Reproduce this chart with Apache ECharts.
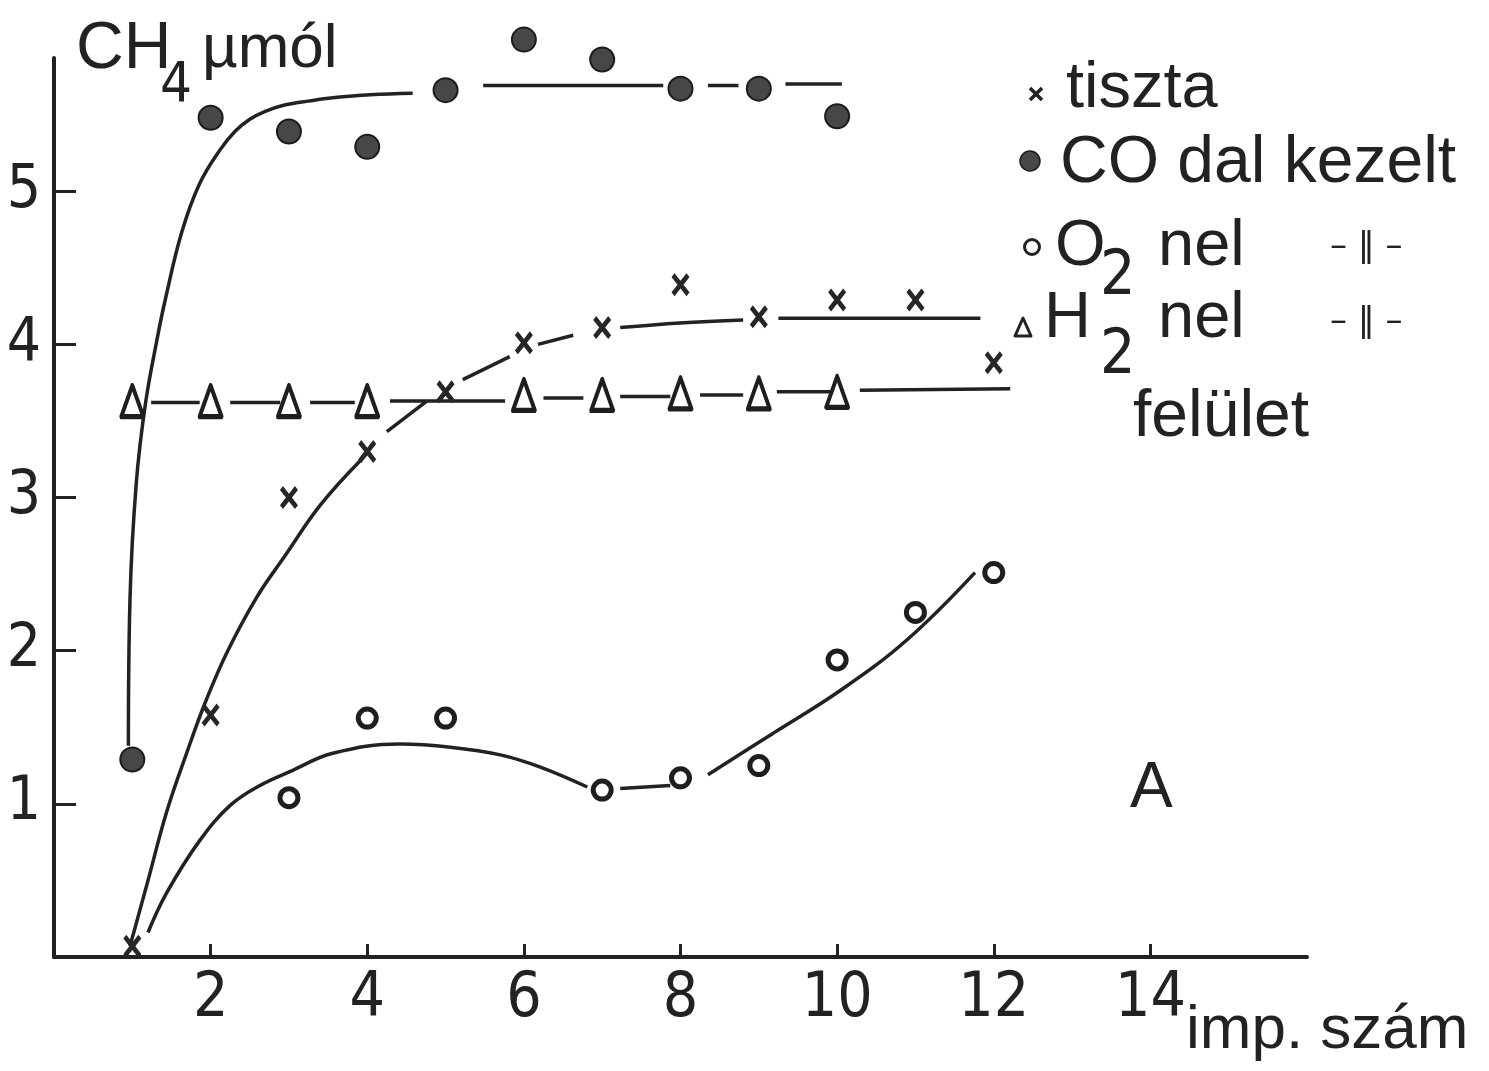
<!DOCTYPE html>
<html><head><meta charset="utf-8">
<script src="https://cdn.jsdelivr.net/npm/echarts@6/dist/echarts.min.js"></script>
<style>html,body{margin:0;padding:0;background:#fff}#c{width:1489px;height:1071px}</style>
</head><body><div id="c"></div>
<script>
// ---- data ----
const impulses = [1, 2, 3, 4, 5, 6, 7, 8, 9, 10, 11, 12];
const tiszta   = [0.07, 1.58, 3.00, 3.30, 3.69, 4.01, 4.11, 4.39, 4.18, 4.29, 4.29, 3.88];
const coKezelt = [1.29, 5.48, 5.39, 5.29, 5.66, 5.99, 5.86, 5.67, 5.67, 5.49, null, null];
const o2Nel    = [null, null, 1.04, 1.56, 1.56, null, 1.09, 1.17, 1.25, 1.94, 2.25, 2.51];
const h2Nel    = [3.63, 3.63, 3.63, 3.63, null, 3.67, 3.67, 3.68, 3.68, 3.69, null, null];

// hand-drawn trend curves (visible pieces, '-' marks a pen lift)
const GAP = ['-', '-'];
const coFit = [[0.95,1.38],[0.97,2.33],[1.05,3.09],[1.17,3.62],[1.33,4.07],[1.42,4.29],[1.63,4.73],[1.86,5.05],[2.12,5.27],[2.31,5.39],[2.50,5.47],[2.69,5.52],[2.92,5.56],[3.27,5.59],[3.56,5.61],[4.04,5.63],[4.58,5.64],
  GAP,[5.48,5.69],[7.78,5.69],GAP,[8.35,5.69],[8.74,5.69],GAP,[9.34,5.70],[10.06,5.70]];
const tisztaFit = [[0.97,0.07],[1.19,0.48],[1.44,0.95],[1.70,1.34],[1.93,1.66],[2.21,1.99],[2.59,2.35],[2.95,2.62],[3.40,2.95],[3.91,3.24],
  GAP,[4.25,3.43],[4.76,3.63],GAP,[5.22,3.77],[5.82,3.92],GAP,[6.18,4.00],[6.63,4.06],GAP,[7.23,4.11],[7.99,4.14],[8.80,4.16],GAP,[9.25,4.17],[11.83,4.17]];
const o2Fit = [[1.20,0.16],[1.44,0.42],[1.86,0.76],[2.25,0.99],[2.63,1.12],[3.01,1.21],[3.56,1.33],[4.42,1.39],[5.06,1.37],[5.70,1.32],[6.21,1.24],[6.81,1.11],
  GAP,[7.23,1.10],[7.87,1.12],GAP,[8.35,1.19],[9.18,1.46],[10.04,1.74],[10.89,2.07],[11.76,2.51]];
const h2Fit = [[1.24,3.62],[1.86,3.62],GAP,[2.25,3.62],[2.89,3.62],GAP,[3.27,3.62],[3.84,3.62],GAP,[4.29,3.63],[5.76,3.63],GAP,[6.25,3.65],[6.76,3.65],
  GAP,[7.23,3.66],[7.87,3.66],GAP,[8.25,3.67],[8.80,3.67],GAP,[9.23,3.69],[9.91,3.69],GAP,[10.29,3.70],[12.21,3.71]];

const xTicks = [2, 4, 6, 8, 10, 12, 14];
const yTicks = [1, 2, 3, 4, 5];

// ---- styling ----
const INK = '#222222';
const FONT = "'Liberation Sans', Arial, sans-serif";
const DIGIT = "'Liberation Sans Narrow', 'DejaVu Sans Condensed', 'Liberation Sans', sans-serif";
const CROSS = 'path://M0,2 L2,0 L6,4 L10,0 L12,2 L8,6 L12,10 L10,12 L6,8 L2,12 L0,10 L4,6 Z';

function pts(vals) {
  return impulses.map((x, i) => vals[i] == null ? null : [x, vals[i]]).filter(Boolean);
}
function fitLine(name, data) {
  return { name, type: 'line', data, smooth: 0.4, showSymbol: false, clip: false, z: 2,
    connectNulls: false, lineStyle: { color: INK, width: 3.5 }, silent: true };
}

function txt(x, y, text, size, extra) {
  return { type: 'text', z: 10, style: Object.assign({ x, y, text, fill: INK, fontSize: size,
    fontFamily: FONT, textAlign: 'left', textVerticalAlign: 'middle' }, extra || {}) };
}

const chart = echarts.init(document.getElementById('c'), null, { renderer: 'canvas' });
chart.setOption({
  backgroundColor: '#ffffff',
  animation: false,
  grid: { left: 54, right: 182, top: 58, bottom: 114, containLabel: false },
  xAxis: {
    type: 'value', min: 0, max: 16, interval: 2,
    axisLine: { lineStyle: { color: INK, width: 4 } },
    axisTick: { inside: true, length: 13, customValues: xTicks, lineStyle: { color: INK, width: 3 } },
    axisLabel: { customValues: xTicks, margin: 12, color: INK, fontSize: 62, fontFamily: DIGIT },
    splitLine: { show: false }
  },
  yAxis: {
    type: 'value', min: 0, max: 5.87, interval: 1,
    axisLine: { lineStyle: { color: INK, width: 4 } },
    axisTick: { inside: true, length: 22, customValues: yTicks, lineStyle: { color: INK, width: 3 } },
    axisLabel: { customValues: yTicks, margin: 13, color: INK, fontSize: 60, fontFamily: DIGIT },
    splitLine: { show: false }
  },
  series: [
    fitLine('coFit', coFit),
    fitLine('tisztaFit', tisztaFit),
    fitLine('o2Fit', o2Fit),
    fitLine('h2Fit', h2Fit),
    { name: 'tiszta', type: 'scatter', data: pts(tiszta), clip: false, z: 4, symbol: CROSS, symbolSize: [18, 23],
      itemStyle: { color: '#262626', opacity: 1 } },
    { name: 'CO dal kezelt', type: 'scatter', data: pts(coKezelt), clip: false, z: 4, symbol: 'circle', symbolSize: 24,
      itemStyle: { color: '#474747', borderColor: '#1c1c1c', borderWidth: 2, opacity: 1 } },
    { name: 'O2 nel', type: 'scatter', data: pts(o2Nel), clip: false, z: 4, symbol: 'circle', symbolSize: 18,
      itemStyle: { color: '#ffffff', borderColor: '#1e1e1e', borderWidth: 5, opacity: 1 } },
    { name: 'H2 nel', type: 'scatter', data: pts(h2Nel), clip: false, z: 4, symbol: 'triangle', symbolSize: [22, 31],
      itemStyle: { color: '#ffffff', borderColor: '#1e1e1e', borderWidth: 4.5, borderJoin: 'round', opacity: 1 } }
  ],
  graphic: [
    // y-axis title
    txt(76, 50, 'CH', 66),
    txt(160, 86, '4', 56, { fontFamily: DIGIT }),
    txt(202, 50, 'µmól', 62),
    // x-axis title
    txt(1186, 1031, 'imp. szám', 62),
    // panel letter
    txt(1130, 789, 'A', 64),
    // legend
    { type: 'line', z: 10, shape: { x1: 1030, y1: 88, x2: 1042, y2: 100 }, style: { stroke: INK, lineWidth: 3.5 } },
    { type: 'line', z: 10, shape: { x1: 1042, y1: 88, x2: 1030, y2: 100 }, style: { stroke: INK, lineWidth: 3.5 } },
    txt(1066, 89, 'tiszta', 65),
    { type: 'circle', z: 10, shape: { cx: 1030, cy: 161, r: 10 }, style: { fill: '#474747', stroke: '#1c1c1c', lineWidth: 1.5 } },
    txt(1060, 164, 'CO dal kezelt', 66),
    { type: 'circle', z: 10, shape: { cx: 1032, cy: 247, r: 7.5 }, style: { fill: 'none', stroke: INK, lineWidth: 3 } },
    txt(1055, 247, 'O', 65),
    txt(1100, 278, '2', 62, { fontFamily: DIGIT }),
    txt(1158, 247, 'nel', 65),
    txt(1330, 247, '– ‖ –', 34, { fontFamily: "'DejaVu Sans', sans-serif" }),
    { type: 'polygon', z: 10, shape: { points: [[1015, 336], [1031, 336], [1023, 318]] }, style: { fill: 'none', stroke: INK, lineWidth: 3, lineJoin: 'round' } },
    txt(1044, 319, 'H', 65),
    txt(1100, 357, '2', 62, { fontFamily: DIGIT }),
    txt(1158, 319, 'nel', 65),
    txt(1330, 322, '– ‖ –', 34, { fontFamily: "'DejaVu Sans', sans-serif" }),
    txt(1133, 418, 'felület', 66)
  ]
});
</script>
</body></html>
